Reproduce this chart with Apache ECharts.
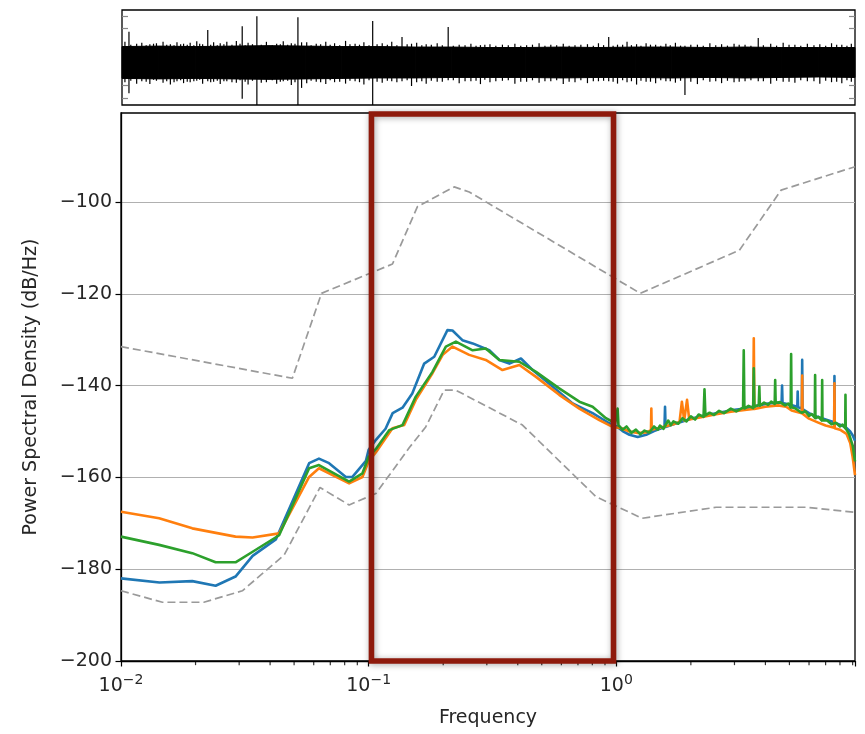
<!DOCTYPE html>
<html>
<head>
<meta charset="utf-8">
<title>Power Spectral Density</title>
<script src="https://cdn.jsdelivr.net/npm/echarts@6.0.0/dist/echarts.min.js"></script>
<style>
  html, body { margin: 0; padding: 0; background: #fff; }
  #main { width: 865px; height: 734px; }
</style>
</head>
<body>
<div id="main"></div>
<script>
// ---- trace panel (top): amplitude envelope, spikes and ragged edge ----
var traceT = [0, 50, 100, 150, 200, 250, 300, 350, 400, 450, 500, 550, 600, 650, 700, 750, 800, 850, 900, 950, 1000]
var coreTop = [0.23, 0.24, 0.23, 0.24, 0.25, 0.24, 0.23, 0.23, 0.22, 0.22, 0.21, 0.21, 0.22, 0.21, 0.22, 0.22, 0.21, 0.22, 0.21, 0.21, 0.21]
var coreBot = [-0.44, -0.45, -0.44, -0.45, -0.46, -0.45, -0.44, -0.43, -0.43, -0.42, -0.42, -0.42, -0.43, -0.42, -0.42, -0.43, -0.42, -0.43, -0.42, -0.41, -0.42]
// [t, high, low]
var bigSpikes = [
  [9.5, 0.54, -0.75], [117, 0.58, -0.5], [164, 0.66, -0.87], [184, 0.87, -1.0],
  [240, 0.85, -1.0], [342, 0.77, -1.0], [382, 0.43, -0.5], [445, 0.64, -0.48],
  [664, 0.43, -0.5], [768, 0.25, -0.79], [868, 0.41, -0.5]
]
var fringe = [
  [4, 0.33, -0.52], [20, 0.29, -0.55], [27, 0.31, -0.50], [38, 0.28, -0.56], [47, 0.30, -0.49],
  [56, 0.33, -0.53], [66, 0.28, -0.57], [75, 0.32, -0.50], [84, 0.29, -0.54], [93, 0.31, -0.52],
  [102, 0.34, -0.49], [110, 0.28, -0.55], [125, 0.32, -0.51], [134, 0.30, -0.56], [143, 0.33, -0.50],
  [156, 0.35, -0.53], [172, 0.31, -0.57], [197, 0.33, -0.52], [211, 0.29, -0.55], [220, 0.34, -0.50],
  [231, 0.30, -0.58], [245, 0.32, -0.64], [252, 0.32, -0.54], [265, 0.29, -0.51], [278, 0.33, -0.56],
  [290, 0.30, -0.52], [305, 0.35, -0.55], [318, 0.29, -0.50], [330, 0.32, -0.57], [355, 0.30, -0.53],
  [368, 0.33, -0.50], [395, 0.29, -0.60], [402, 0.31, -0.52], [415, 0.28, -0.55], [430, 0.30, -0.51],
  [460, 0.27, -0.54], [476, 0.29, -0.50], [489, 0.26, -0.56], [502, 0.28, -0.52], [519, 0.27, -0.49],
  [536, 0.29, -0.55], [552, 0.26, -0.51], [569, 0.30, -0.53], [585, 0.27, -0.50], [602, 0.29, -0.56],
  [618, 0.26, -0.52], [635, 0.28, -0.54], [650, 0.30, -0.50], [676, 0.27, -0.55], [689, 0.33, -0.52],
  [702, 0.28, -0.57], [715, 0.30, -0.51], [728, 0.27, -0.54], [742, 0.29, -0.50], [755, 0.31, -0.53],
  [785, 0.27, -0.56], [802, 0.30, -0.51], [818, 0.28, -0.54], [835, 0.29, -0.52], [850, 0.27, -0.50],
  [885, 0.29, -0.55], [902, 0.31, -0.51], [918, 0.27, -0.53], [935, 0.29, -0.50], [952, 0.28, -0.55],
  [968, 0.30, -0.52], [982, 0.27, -0.54], [995, 0.29, -0.51]
]
var fringeFine = [
  [12, 0.27, -0.49], [33, 0.26, -0.51], [43, 0.29, -0.47], [61, 0.27, -0.50], [71, 0.26, -0.52],
  [80, 0.28, -0.48], [89, 0.27, -0.51], [98, 0.26, -0.50], [106, 0.29, -0.47], [121, 0.27, -0.52],
  [130, 0.26, -0.49], [139, 0.28, -0.50], [150, 0.27, -0.52], [161, 0.29, -0.48], [168, 0.26, -0.51],
  [178, 0.28, -0.49], [190, 0.27, -0.53], [205, 0.26, -0.48], [216, 0.28, -0.51], [226, 0.27, -0.49],
  [236, 0.29, -0.52], [258, 0.26, -0.49], [271, 0.28, -0.52], [284, 0.27, -0.48], [297, 0.26, -0.51],
  [311, 0.28, -0.49], [324, 0.27, -0.52], [337, 0.26, -0.48], [348, 0.28, -0.51], [362, 0.27, -0.49],
  [375, 0.26, -0.52], [389, 0.28, -0.48], [409, 0.26, -0.50], [422, 0.27, -0.49], [437, 0.26, -0.51],
  [452, 0.25, -0.48], [468, 0.26, -0.50], [483, 0.25, -0.49], [495, 0.27, -0.47], [510, 0.25, -0.50],
  [527, 0.26, -0.48], [544, 0.25, -0.51], [560, 0.27, -0.48], [577, 0.25, -0.50], [593, 0.26, -0.48],
  [610, 0.25, -0.51], [626, 0.27, -0.48], [643, 0.25, -0.50], [657, 0.26, -0.49], [670, 0.25, -0.51],
  [683, 0.27, -0.48], [695, 0.26, -0.50], [708, 0.25, -0.49], [721, 0.27, -0.51], [735, 0.25, -0.48],
  [748, 0.26, -0.50], [762, 0.25, -0.49], [776, 0.27, -0.51], [793, 0.25, -0.48], [810, 0.26, -0.50],
  [826, 0.25, -0.49], [842, 0.27, -0.51], [858, 0.25, -0.48], [875, 0.26, -0.50], [893, 0.25, -0.49],
  [910, 0.27, -0.51], [926, 0.25, -0.48], [944, 0.26, -0.50], [960, 0.25, -0.49], [975, 0.27, -0.51],
  [989, 0.25, -0.48]
]
var traceTicks = [-0.86, -0.58, 0.61, 0.87]

// ---- PSD panel: [frequency (Hz), dB] ----
var psdBlue = [
  [0.01, -182.0], [0.0143, -182.9], [0.0194, -182.6], [0.0241, -183.6], [0.029, -181.6], [0.034, -177.1],
  [0.0422, -173.5], [0.0575, -156.9], [0.063, -155.9], [0.0692, -156.9], [0.0809, -159.9], [0.086, -159.9],
  [0.0975, -156.4], [0.1, -154.0], [0.107, -151.8], [0.117, -149.4], [0.125, -146.0], [0.137, -144.8],
  [0.15, -141.7], [0.1676, -135.2], [0.184, -133.7], [0.208, -127.9], [0.218, -128.0], [0.239, -130.1],
  [0.263, -130.8], [0.307, -132.3], [0.337, -134.4], [0.37, -135.2], [0.412, -134.1], [0.459, -136.6],
  [0.553, -140.2], [0.666, -143.9], [0.802, -146.0], [0.937, -148.2],
  [1.0, -148.8], [1.06, -149.9], [1.13, -150.7], [1.22, -151.2], [1.32, -150.7], [1.42, -149.9],
  [1.52, -149.3], [1.565, -149.0], [1.573, -144.6], [1.581, -149.0], [1.7, -148.4], [1.85, -147.8],
  [2.0, -147.2], [2.2, -146.7], [2.5, -146.1], [2.9, -145.4], [3.3, -145.0], [3.7, -144.4],
  [4.1, -143.9], [4.5, -143.7], [4.65, -143.7], [4.67, -140.0], [4.69, -143.8], [5.0, -144.1],
  [5.38, -144.6], [5.40, -141.3], [5.42, -144.7], [5.61, -145.0], [5.63, -134.4], [5.65, -145.1],
  [6.0, -146.0], [6.5, -146.8], [7.0, -147.4], [7.58, -148.0], [7.6, -137.9], [7.62, -148.1],
  [8.0, -148.5], [8.5, -149.2], [8.8, -150.0], [9.0, -150.8], [9.2, -152.0]
]
var psdOrange = [
  [0.01, -167.5], [0.01425, -168.9], [0.0194, -171.1], [0.029, -172.9], [0.034, -173.1], [0.0435, -172.2],
  [0.0575, -159.9], [0.063, -158.0], [0.0834, -161.3], [0.0944, -159.9], [0.1, -156.5], [0.107, -154.5],
  [0.1248, -149.3], [0.139, -148.6], [0.155, -143.1], [0.181, -137.3], [0.199, -133.3], [0.218, -131.5],
  [0.2547, -133.3], [0.297, -134.4], [0.347, -136.6], [0.406, -135.5], [0.474, -138.1], [0.588, -142.0],
  [0.709, -145.0], [0.854, -147.5], [0.966, -149.0],
  [1.05, -149.3], [1.13, -150.0], [1.22, -150.3], [1.32, -150.2], [1.38, -149.7], [1.385, -145.0],
  [1.39, -149.6], [1.5, -149.2], [1.7, -148.4], [1.8, -147.9], [1.84, -143.5], [1.88, -147.6],
  [1.93, -143.1], [1.97, -147.4], [2.2, -146.9], [2.5, -146.3], [2.9, -145.7], [3.3, -145.3],
  [3.57, -145.1], [3.59, -129.7], [3.61, -145.1], [4.0, -144.6], [4.5, -144.3], [4.85, -144.6],
  [5.1, -145.4], [5.61, -146.0], [5.63, -137.8], [5.65, -146.1], [6.0, -147.2], [6.5, -148.0],
  [7.0, -148.7], [7.58, -149.2], [7.6, -139.5], [7.62, -149.3], [8.0, -149.6], [8.5, -150.5],
  [8.8, -152.5], [9.0, -155.5], [9.2, -159.5]
]
var psdGreen = [
  [0.01, -172.9], [0.01425, -174.7], [0.0194, -176.5], [0.0241, -178.5], [0.029, -178.5], [0.034, -176.2],
  [0.0435, -172.6], [0.0575, -158.0], [0.063, -157.3], [0.0834, -160.9], [0.0944, -159.1], [0.1, -155.5],
  [0.107, -153.8], [0.121, -149.7], [0.137, -148.6], [0.155, -142.4], [0.181, -137.0], [0.205, -131.5],
  [0.225, -130.4], [0.263, -132.3], [0.297, -131.9], [0.337, -134.4], [0.406, -134.8], [0.474, -137.0],
  [0.588, -140.6], [0.709, -143.5], [0.802, -144.6], [0.908, -147.1], [0.99, -148.2],
  [1.005, -148.3], [1.012, -145.0], [1.02, -148.6], [1.06, -149.6], [1.1, -148.9], [1.15, -150.3],
  [1.2, -149.6], [1.25, -150.6], [1.3, -149.8], [1.36, -150.2], [1.42, -148.9], [1.47, -149.6],
  [1.5, -148.7], [1.55, -149.4], [1.62, -147.6], [1.66, -148.6], [1.7, -147.8], [1.78, -148.3],
  [1.85, -147.1], [1.92, -147.8], [2.0, -146.7], [2.08, -147.4], [2.15, -146.3], [2.25, -146.8],
  [2.27, -140.8], [2.29, -146.5], [2.38, -145.9], [2.48, -146.4], [2.6, -145.5], [2.72, -146.0],
  [2.9, -145.0], [3.05, -145.6], [3.25, -144.8], [3.27, -132.3], [3.29, -145.0], [3.42, -144.4],
  [3.57, -144.9], [3.59, -136.2], [3.61, -144.6], [3.76, -144.2], [3.78, -140.2], [3.80, -144.4],
  [3.95, -143.7], [4.1, -144.2], [4.22, -143.5], [4.36, -144.0], [4.38, -138.8], [4.40, -143.8],
  [4.58, -143.6], [4.8, -144.3], [4.95, -143.9], [5.06, -144.8], [5.08, -133.1], [5.10, -144.7],
  [5.3, -145.0], [5.6, -145.9], [5.8, -145.6], [6.0, -146.6], [6.15, -146.2], [6.33, -147.0],
  [6.35, -137.7], [6.37, -147.1], [6.55, -146.8], [6.76, -147.6], [6.78, -138.8], [6.80, -147.6],
  [7.1, -147.6], [7.4, -148.4], [7.7, -148.1], [8.0, -148.9], [8.2, -148.5], [8.4, -149.3],
  [8.42, -142.0], [8.44, -149.3], [8.7, -150.5], [9.0, -153.0], [9.2, -156.5]
]
var highNoise = [
  [0.01, -131.5], [0.0492, -138.4], [0.0645, -119.9], [0.1248, -113.5], [0.1574, -101.0], [0.2215, -96.7],
  [0.2547, -97.8], [1.25, -119.9], [3.14, -110.5], [4.63, -97.4], [9.2, -92.3]
]
var lowNoise = [
  [0.01, -184.7], [0.0147, -187.2], [0.0216, -187.2], [0.0309, -184.7], [0.0456, -176.9], [0.0636, -162.2],
  [0.0834, -166.0], [0.107, -163.5], [0.146, -153.5], [0.170, -149.0], [0.2018, -141.0], [0.225, -141.0],
  [0.418, -148.6], [0.828, -164.2], [1.27, -168.9], [2.53, -166.5], [5.84, -166.5], [9.2, -167.6]
]
var minorTicks = [0.02, 0.03, 0.04, 0.05, 0.06, 0.07, 0.08, 0.09, 0.2, 0.3, 0.4, 0.5, 0.6, 0.7, 0.8, 0.9, 2, 3, 4, 5, 6, 7, 8, 9]
var dbTicks = [-200, -180, -160, -140, -120, -100]
var fMin = 0.01, fMax = 9.2
var dbMin = -200, dbMax = -80.6
var bandLo = 0.1, bandHi = 1.0   // highlighted band

var chart = echarts.init(document.getElementById('main'))
var textColor = '#262626'
var sup = { '-2': '\u22122', '-1': '\u22121', '0': '0' }

function lineSeries(name, data, color) {
  return {
    name: name, type: 'line', xAxisIndex: 1, yAxisIndex: 2, data: data,
    showSymbol: false, symbol: 'none', z: 3,
    lineStyle: { color: color, width: 2.6, join: 'round' }
  }
}
function dashSeries(name, data) {
  return {
    name: name, type: 'line', xAxisIndex: 1, yAxisIndex: 2, data: data,
    showSymbol: false, symbol: 'none', z: 2,
    lineStyle: { color: '#9a9a9a', width: 1.7, type: [8, 4] }
  }
}
function traceAxis(pos) {
  return {
    gridIndex: 0, type: 'value', min: -1, max: 1, position: pos,
    axisLine: { show: false }, axisLabel: { show: false }, splitLine: { show: false },
    axisTick: { show: true, inside: true, length: 6, customValues: traceTicks, lineStyle: { color: '#888', width: 1.2 } }
  }
}

var option = {
  animation: false,
  backgroundColor: '#fff',
  textStyle: { fontFamily: 'DejaVu Sans' },
  grid: [
    { left: 122, top: 10, width: 733, height: 95, show: true, borderColor: '#000', borderWidth: 1.3 },
    { left: 121, top: 113, width: 734, height: 548, show: true, borderColor: '#000', borderWidth: 1.3 }
  ],
  xAxis: [
    { gridIndex: 0, type: 'value', min: 0, max: 1000, show: false },
    {
      gridIndex: 1, type: 'log', logBase: 10, min: fMin, max: fMax, splitNumber: 3,
      name: 'Frequency', nameLocation: 'middle', nameGap: 48,
      nameTextStyle: { fontSize: 19, color: textColor },
      axisLine: { show: true, lineStyle: { color: '#000', width: 1.3 } },
      axisTick: { show: true, length: 5.5, lineStyle: { color: '#000', width: 1.2 } },
      splitLine: { show: false },
      axisLabel: {
        margin: 12,
        formatter: function (v) {
          var e = Math.round(Math.log10(v) * 1000) / 1000
          if (e !== Math.round(e) || e > 0) return ''
          return '{b|10}{s|' + sup[String(e)] + '}'
        },
        rich: {
          b: { fontSize: 19, color: textColor, lineHeight: 26, fontFamily: 'DejaVu Sans' },
          s: { fontSize: 14, color: textColor, verticalAlign: 'top', lineHeight: 16, fontFamily: 'DejaVu Sans' }
        }
      }
    }
  ],
  yAxis: [
    traceAxis('left'),
    traceAxis('right'),
    {
      gridIndex: 1, type: 'value', min: dbMin, max: dbMax, interval: 20,
      name: 'Power Spectral Density (dB/Hz)', nameLocation: 'middle', nameGap: 80,
      nameTextStyle: { fontSize: 19, color: textColor },
      axisLine: { show: true, lineStyle: { color: '#000', width: 1.3 } },
      axisTick: { show: true, length: 5.5, customValues: dbTicks, lineStyle: { color: '#000', width: 1.2 } },
      splitLine: { show: true, lineStyle: { color: '#b0b0b0', width: 1.2 } },
      axisLabel: {
        fontSize: 19, color: textColor, margin: 9,
        formatter: function (v) {
          if (v % 20 !== 0) return ''
          return String(v).replace('-', '\u2212')
        }
      }
    }
  ],
  series: [
    {
      name: 'core', type: 'custom', xAxisIndex: 0, yAxisIndex: 0, silent: true,
      data: traceT.map(function (t, i) { return [t, coreTop[i], coreBot[i]] }),
      encode: { x: 0, y: [1, 2] },
      renderItem: function (params, api) {
        var i = params.dataIndex
        if (i >= traceT.length - 1) return
        var a = api.coord([traceT[i], coreTop[i]])
        var b = api.coord([traceT[i + 1], coreTop[i + 1]])
        var c = api.coord([traceT[i + 1], coreBot[i + 1]])
        var d = api.coord([traceT[i], coreBot[i]])
        return { type: 'polygon', shape: { points: [a, b, c, d] }, style: { fill: '#000', stroke: '#000', lineWidth: 1 } }
      }
    },
    {
      name: 'edges', type: 'custom', xAxisIndex: 0, yAxisIndex: 0, silent: true,
      data: fringeFine.concat(fringe, bigSpikes),
      encode: { x: 0, y: [1, 2] },
      renderItem: function (params, api) {
        var p = api.coord([api.value(0), api.value(1)])
        var q = api.coord([api.value(0), api.value(2)])
        return { type: 'line', shape: { x1: p[0], y1: p[1], x2: q[0], y2: q[1] }, style: { stroke: '#000', lineWidth: 1.2 } }
      }
    },
    dashSeries('high noise', highNoise),
    dashSeries('low noise', lowNoise),
    lineSeries('blue', psdBlue, '#1f77b4'),
    lineSeries('orange', psdOrange, '#ff7f0e'),
    lineSeries('green', psdGreen, '#2ca02c'),
    {
      name: 'minor ticks', type: 'scatter', xAxisIndex: 1, yAxisIndex: 2, silent: true, clip: false,
      data: minorTicks.map(function (f) { return [f, dbMin] }),
      symbol: 'rect', symbolSize: [1.2, 3.5], symbolOffset: [0, 2.4],
      itemStyle: { color: '#000' }, z: 5
    },
    {
      name: 'band', type: 'custom', xAxisIndex: 1, yAxisIndex: 2, silent: true, clip: false, z: 10,
      data: [[bandLo, dbMin, bandHi, dbMax]],
      encode: { x: [0, 2], y: [1, 3] },
      renderItem: function (params, api) {
        var lw = 5.6
        var a = api.coord([bandLo, dbMin])
        var b = api.coord([bandHi, dbMax])
        return {
          type: 'rect',
          shape: { x: a[0] + lw / 2, y: b[1] + 1, width: b[0] - a[0] - lw, height: a[1] - b[1] - 1 },
          style: {
            fill: 'none', stroke: '#8e1a0c', lineWidth: lw,
            shadowBlur: 6, shadowColor: 'rgba(0,0,0,0.35)', shadowOffsetX: 1, shadowOffsetY: 1
          }
        }
      }
    }
  ]
}
chart.setOption(option)
</script>
</body>
</html>
